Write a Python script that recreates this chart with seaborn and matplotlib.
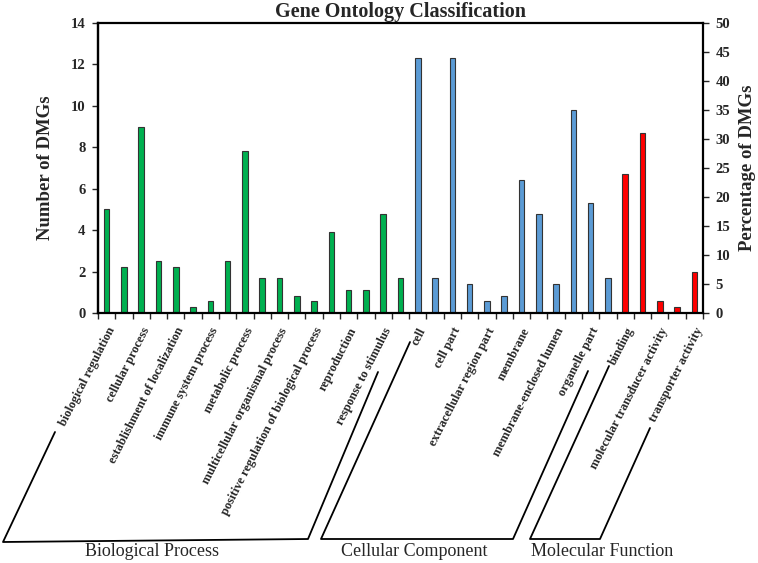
import matplotlib
matplotlib.use("Agg")
import matplotlib.pyplot as plt
import numpy as np
import pandas as pd
import seaborn as sns

# GO terms (only every other one is labelled on the axis)
bp_terms = ["biological regulation", "cellular component organization or biogenesis",
            "cellular process", "developmental process", "establishment of localization",
            "growth", "immune system process", "localization", "metabolic process",
            "multi-organism process", "multicellular organismal process",
            "negative regulation of biological process",
            "positive regulation of biological process", "regulation of biological process",
            "reproduction", "reproductive process", "response to stimulus", "signaling"]
bp_pct = [18, 8, 32, 9, 8, 1, 2, 9, 28, 6, 6, 3, 2, 14, 4, 4, 17, 6]

cc_terms = ["cell", "cell junction", "cell part", "extracellular region",
            "extracellular region part", "macromolecular complex", "membrane",
            "membrane part", "membrane-enclosed lumen", "organelle", "organelle part",
            "synapse"]
cc_pct = [44, 6, 44, 5, 2, 3, 23, 17, 5, 35, 19, 6]

mf_terms = ["binding", "catalytic activity", "molecular transducer activity",
            "receptor activity", "transporter activity"]
mf_pct = [24, 31, 2, 1, 7]

groups = ["Biological Process", "Cellular Component", "Molecular Function"]
colors = {"Biological Process": "#00b050", "Cellular Component": "#5b9bd5",
          "Molecular Function": "#ff0000"}
total_genes = 28  # 100% of DMGs on the right axis = 28 genes on the left

df = pd.DataFrame({
    "term": bp_terms + cc_terms + mf_terms,
    "pct": bp_pct + cc_pct + mf_pct,
    "group": [groups[0]] * len(bp_terms) + [groups[1]] * len(cc_terms) + [groups[2]] * len(mf_terms),
})

sns.set_style("white")
plt.rcParams["font.family"] = ["Liberation Serif", "DejaVu Serif"]

fig = plt.figure(figsize=(7.58, 5.63), dpi=100)
ax = fig.add_axes([98 / 758, 1 - 313 / 563, 605 / 758, 290 / 563])

sns.barplot(data=df, x="term", y="pct", hue="group", palette=colors, dodge=False,
            saturation=1, width=0.33, edgecolor="#333333", linewidth=0.8,
            legend=False, ax=ax)

n = len(df)
ax.set_xlim(-0.5, n - 0.5)
ax.set_ylim(0, 50)
ax.set_yticks(np.arange(0, 51, 5))
ax.yaxis.tick_right()
ax.yaxis.set_label_position("right")
ax.set_ylabel("Percentage of DMGs", fontsize=13.5, fontweight="bold", labelpad=6)
ax.set_xlabel("")

sec = ax.secondary_yaxis("left", functions=(lambda p: p * total_genes / 100,
                                             lambda c: c * 100 / total_genes))
sec.set_yticks(np.arange(0, 15, 2))
sec.set_ylabel("Number of DMGs", fontsize=13.5, fontweight="bold", labelpad=12)

# label every other term, ticks sit between bars
ax.set_xticks(np.arange(0, n, 2))
ax.set_xticklabels(df["term"][::2], rotation=63, ha="right", rotation_mode="anchor",
                   fontsize=9, fontweight="bold")
ax.set_xticks(np.arange(-0.5, n, 1), minor=True)
ax.tick_params(axis="x", which="major", length=0, pad=9)
ax.tick_params(axis="x", which="minor", length=4, width=1, direction="out", bottom=True)
ax.tick_params(axis="y", length=4, width=1, direction="out", right=True, labelsize=10.5, pad=5)
sec.tick_params(axis="y", length=4, width=1, direction="out", labelsize=10.5, pad=5)
for lab in ax.get_yticklabels() + sec.get_yticklabels():
    lab.set_fontweight("bold")

for s in ax.spines.values():
    s.set_linewidth(1.6)
    s.set_color("black")
sec.spines["left"].set_linewidth(1.6)

ax.set_title("Gene Ontology Classification", fontsize=14.5, fontweight="bold", pad=4)

# group brackets below the labels (pixel positions from the top-left corner)
brackets = [
    [(55, 432), (3, 542), (308, 539), (378, 372)],
    [(410, 342), (321, 539), (513, 539), (588, 371)],
    [(609, 366), (530, 539), (600, 539), (650, 428)],
]
for pts in brackets:
    xs = [p[0] / 758 for p in pts]
    ys = [1 - p[1] / 563 for p in pts]
    fig.add_artist(plt.Line2D(xs, ys, color="black", linewidth=1.3, transform=fig.transFigure))

for name, cx in zip(groups, [152, 414, 602]):
    fig.text(cx / 758, 1 - 551 / 563, name, ha="center", va="center", fontsize=13)

fig.savefig("out.png", dpi=100)
